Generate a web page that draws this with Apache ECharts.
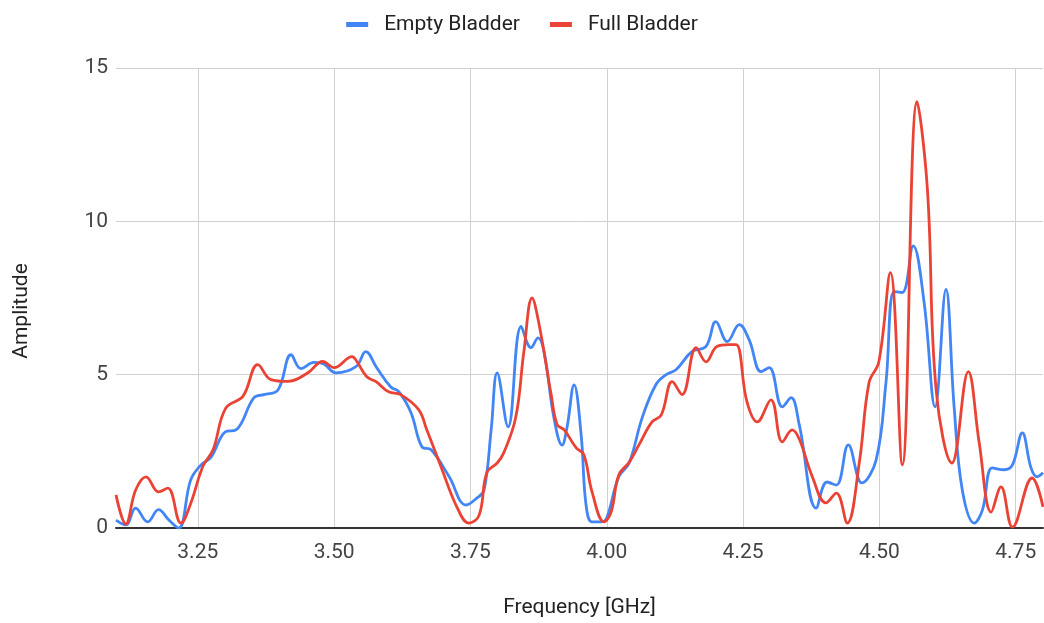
<!DOCTYPE html>
<html>
<head>
<meta charset="utf-8">
<script src="https://cdn.jsdelivr.net/npm/echarts@6/dist/echarts.min.js"></script>
<style>
html,body{margin:0;padding:0;background:#fff;}
#chart{width:1044px;height:623px;}
</style>
</head>
<body>
<div id="chart"></div>
<script>
const seriesNames = ["Empty Bladder", "Full Bladder"];
const xTicks = [3.25, 3.50, 3.75, 4.00, 4.25, 4.50, 4.75];
const yTicks = [0, 5, 10, 15];

const freqEmpty = [3.100,3.118,3.136,3.158,3.178,3.197,3.215,3.237,3.256,3.274,3.301,3.320,3.353,3.371,3.397,3.421,3.439,3.463,3.481,3.503,3.540,3.558,3.578,3.604,3.619,3.641,3.661,3.678,3.711,3.742,3.762,3.775,3.788,3.799,3.819,3.843,3.861,3.874,3.885,3.903,3.918,3.927,3.940,3.953,3.962,3.973,3.991,4.000,4.022,4.041,4.065,4.090,4.109,4.127,4.156,4.182,4.200,4.221,4.243,4.261,4.283,4.298,4.322,4.338,4.353,4.384,4.404,4.421,4.443,4.468,4.494,4.512,4.527,4.542,4.562,4.582,4.602,4.622,4.637,4.652,4.674,4.689,4.707,4.729,4.744,4.762,4.778,4.789,4.800];
const ampEmpty = [0.26,0.10,0.65,0.20,0.60,0.26,0.00,1.57,2.06,2.30,3.14,3.20,4.25,4.35,4.50,5.65,5.20,5.40,5.35,5.06,5.26,5.75,5.23,4.60,4.44,3.76,2.65,2.55,1.67,0.75,0.98,1.24,3.20,5.06,3.30,6.57,5.88,6.20,5.75,3.60,2.70,3.27,4.67,3.04,0.75,0.20,0.20,0.33,1.67,2.12,3.60,4.67,5.00,5.16,5.75,5.92,6.73,6.08,6.63,6.14,5.10,5.23,3.95,4.25,3.37,0.65,1.50,1.40,2.71,1.47,2.22,4.74,7.71,7.68,9.20,7.35,3.95,7.78,3.95,1.24,0.16,0.59,1.96,1.90,2.06,3.10,1.96,1.67,1.80];

const freqFull = [3.100,3.118,3.136,3.155,3.178,3.195,3.219,3.237,3.259,3.278,3.301,3.333,3.360,3.384,3.415,3.452,3.479,3.500,3.533,3.542,3.560,3.577,3.600,3.622,3.655,3.670,3.696,3.725,3.747,3.766,3.780,3.799,3.811,3.833,3.848,3.863,3.876,3.898,3.909,3.922,3.944,3.958,3.973,3.995,4.008,4.022,4.041,4.059,4.083,4.100,4.120,4.138,4.164,4.182,4.202,4.224,4.237,4.257,4.276,4.301,4.322,4.340,4.353,4.377,4.402,4.421,4.441,4.463,4.481,4.499,4.520,4.542,4.569,4.588,4.604,4.633,4.663,4.683,4.705,4.723,4.744,4.780,4.800];
const ampFull = [1.08,0.13,1.24,1.67,1.18,1.30,0.16,0.80,2.00,2.55,3.90,4.30,5.33,4.84,4.78,5.06,5.43,5.23,5.59,5.42,4.93,4.77,4.44,4.35,3.86,3.20,2.00,0.69,0.16,0.42,1.80,2.12,2.45,3.60,5.75,7.50,6.63,4.35,3.37,3.20,2.61,2.39,1.18,0.20,0.52,1.73,2.14,2.71,3.46,3.69,4.77,4.35,5.88,5.42,5.92,5.98,5.98,4.12,3.46,4.18,2.81,3.20,2.90,1.67,0.82,1.14,0.16,2.12,4.74,5.42,8.33,2.06,13.90,11.05,4.50,2.12,5.10,2.78,0.52,1.34,0.03,1.63,0.69];

function zip(xs, ys) { return xs.map((x, i) => [x, ys[i]]); }

const chart = echarts.init(document.getElementById('chart'), null, {renderer: 'canvas'});
const fontFam = 'Roboto, "Liberation Sans", Arial, sans-serif';
chart.setOption({
  animation: false,
  backgroundColor: '#ffffff',
  color: ['#4285F4', '#EA4335'],
  legend: {
    top: 9,
    left: 'center',
    itemWidth: 22,
    itemHeight: 5,
    itemGap: 30,
    icon: 'rect',
    textStyle: {fontFamily: fontFam, fontSize: 21, color: '#222', padding: [0, 0, 0, 11]},
    data: seriesNames
  },
  grid: {left: 116, right: 1, top: 68, bottom: 95, containLabel: false},
  xAxis: {
    type: 'value',
    min: 3.1,
    max: 4.8,
    name: 'Frequency [GHz]',
    nameLocation: 'middle',
    nameGap: 69,
    nameTextStyle: {fontFamily: fontFam, fontSize: 21, color: '#222'},
    axisLine: {show: true, onZero: false, lineStyle: {color: '#333', width: 2}},
    axisTick: {show: false, customValues: xTicks},
    axisLabel: {
      customValues: xTicks,
      margin: 14,
      fontFamily: fontFam, fontSize: 21, color: '#444',
      formatter: v => v.toFixed(2)
    },
    splitLine: {show: true, lineStyle: {color: '#d0d0d0', width: 1}}
  },
  yAxis: {
    type: 'value',
    min: yTicks[0],
    max: yTicks[yTicks.length - 1],
    interval: 5,
    name: 'Amplitude',
    nameLocation: 'middle',
    nameGap: 84,
    nameRotate: 90,
    nameTextStyle: {fontFamily: fontFam, fontSize: 21, color: '#222', padding: [0, 26, 0, 0]},
    axisLine: {show: false},
    axisTick: {show: false},
    axisLabel: {margin: 8, fontFamily: fontFam, fontSize: 21, color: '#444'},
    splitLine: {show: true, lineStyle: {color: '#d0d0d0', width: 1}}
  },
  series: [
    {
      name: seriesNames[0], type: 'line', smooth: 0.4, showSymbol: false, symbol: 'none',
      lineStyle: {width: 2.8}, data: zip(freqEmpty, ampEmpty)
    },
    {
      name: seriesNames[1], type: 'line', smooth: 0.4, showSymbol: false, symbol: 'none',
      lineStyle: {width: 2.8}, data: zip(freqFull, ampFull)
    }
  ]
});
</script>
</body>
</html>
